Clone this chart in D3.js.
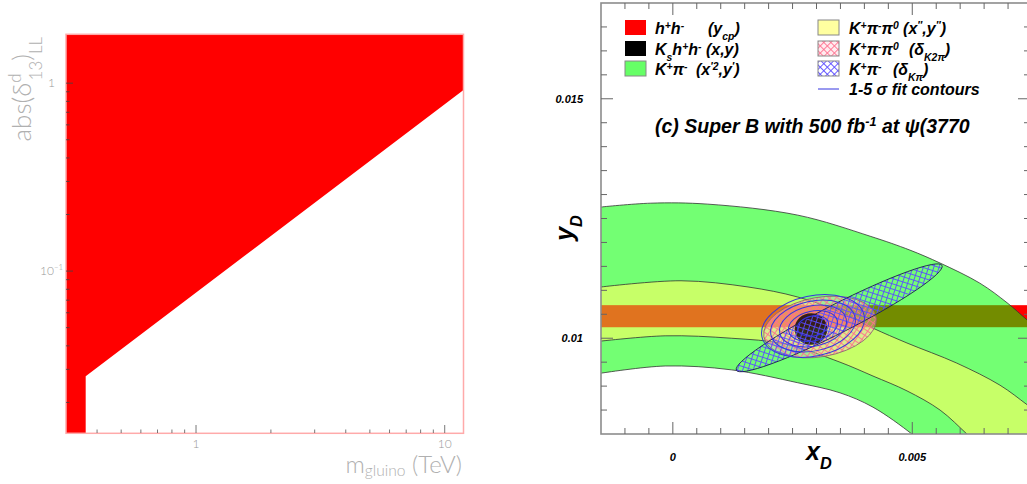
<!DOCTYPE html>
<html>
<head>
<meta charset="utf-8">
<script src="https://cdn.jsdelivr.net/npm/d3@7"></script>
<style>
  body { margin: 0; background: #fff; }
  svg { display: block; }
  .root { font-family: "Liberation Sans", Arial, sans-serif; font-weight: bold; font-style: italic; fill: #000; }
  .thin { font-family: Lato, "DejaVu Sans", sans-serif; font-weight: 300; }
</style>
</head>
<body>
<script>
// ---- left panel : gluino mass vs |delta^d_13|_LL
var massDomain = [0.3, 11.9];
var deltaDomain = [0.0137, 1.82];
var boundMass  = [0.36, 0.36, 11.9];
var boundDelta = [0.0137, 0.0276, 0.92];
var massLabels = [1, 10];

// ---- right panel : D mixing, x_D / y_D plane
var xdDomain = [-0.0015, 0.0075];
var ydDomain = [0.008, 0.017];
var xdLabels = [0, 0.005];
var ydLabels = [0.01, 0.015];
var ycpBand = [0.01023, 0.01069];

// K+pi- (x'^2, y') band edges
var kpiTop = [[-0.0015, 0.01274], [-0.00046, 0.01282], [0.00073, 0.0128], [0.00261, 0.01257],
  [0.00412, 0.01213], [0.00495, 0.01184], [0.00558, 0.01157], [0.00641, 0.01115],
  [0.00698, 0.01074], [0.0074, 0.01038], [0.00777, 0.01007]];
var kpiBottom = [[-0.0015, 0.00927], [-0.00016, 0.00942], [0.00122, 0.00934], [0.00261, 0.00907],
  [0.00349, 0.00886], [0.00418, 0.00856], [0.00499, 0.0080], [0.00527, 0.00775]];

// K+pi-pi0 (x'', y'') band edges
var k2piTop = [[-0.0015, 0.01107], [0.00017, 0.0112], [0.00157, 0.01107], [0.00261, 0.01086],
  [0.00349, 0.01055], [0.00418, 0.01021], [0.00489, 0.0099], [0.00593, 0.00948],
  [0.00683, 0.00902], [0.0074, 0.00861], [0.00788, 0.00825]];
var k2piBottom = [[-0.0015, 0.00994], [-0.00016, 0.01005], [0.00122, 0.01], [0.00234, 0.00988],
  [0.00349, 0.0095], [0.00418, 0.00921], [0.00489, 0.0089], [0.00558, 0.0085],
  [0.00614, 0.0080], [0.00641, 0.00775]];

// ellipses: [cx, cy, rx, ry, angle deg]
var ksEllipse   = [0.002885, 0.010192, 0.00034, 0.00033, 0];
var kpiPhase    = [0.003474, 0.010426, 0.00241, 0.0003, 27];
var k2piPhase   = [0.003073, 0.010234, 0.00119, 0.00062, 10];
var fitCenter   = [0.002927, 0.010255];
var fitAngle    = 12;
var contourRx   = [0.00033, 0.00052, 0.00071, 0.0009, 0.00109];
var contourRy   = [0.00021, 0.00031, 0.00042, 0.00052, 0.00063];

var svg = d3.select("body").append("svg")
    .attr("width", 1027)
    .attr("height", 484);
var defs = svg.append("defs");

// parts: [text, "sup"|"sub", dx, shift]
function rich(sel, parts) {
  parts.forEach(function(p) {
    var t = sel.append("tspan").text(p[0]);
    if (p[1] == "sup") t.attr("baseline-shift", p[3] || "super").attr("font-size", "65%");
    if (p[1] == "sub") t.attr("baseline-shift", p[3] || "sub").attr("font-size", "65%");
    if (p[2]) t.attr("dx", p[2]);
  });
  return sel;
}

// ================= left panel =================
var lx = d3.scaleLog().domain(massDomain).range([66, 463.5]);
var ly = d3.scaleLog().domain(deltaDomain).range([433.3, 34.3]);
var left = svg.append("g");

var redPoly = [[massDomain[0], deltaDomain[1]], [massDomain[1], deltaDomain[1]]];
for (var i = boundMass.length - 1; i >= 0; i--) redPoly.push([boundMass[i], boundDelta[i]]);
redPoly.push([massDomain[0], deltaDomain[0]]);

left.append("path")
    .attr("d", d3.line().x(function(d) { return lx(d[0]); }).y(function(d) { return ly(d[1]); })(redPoly) + "Z")
    .style("fill", "#ff0000");

left.append("rect")
    .attr("x", 66).attr("y", 34.3).attr("width", 397.5).attr("height", 399)
    .style("fill", "none").style("stroke", "#ffaaaa").style("stroke-width", 1.5);

var isDecade = function(v) { return Math.abs(Math.log10(v) - Math.round(Math.log10(v))) < 1e-6; };
var lxt = lx.ticks().filter(function(v) { return v > massDomain[0] * 1.01; });
var lyt = ly.ticks();

left.selectAll(".lxtick").data(lxt).enter().append("line")
    .attr("x1", function(d) { return lx(d); }).attr("x2", function(d) { return lx(d); })
    .attr("y1", 433).attr("y2", function(d) { return isDecade(d) ? 425 : 429.5; })
    .style("stroke", "#555").style("stroke-width", 0.8);
left.selectAll(".lytick").data(lyt).enter().append("line")
    .attr("y1", function(d) { return ly(d); }).attr("y2", function(d) { return ly(d); })
    .attr("x1", 66).attr("x2", function(d) { return isDecade(d) ? 73 : 69.5; })
    .style("stroke", "#444").style("stroke-width", 0.8);

left.selectAll(".lxlab").data(massLabels).enter().append("text")
    .attr("class", "thin")
    .attr("x", function(d) { return lx(d); }).attr("y", 448)
    .attr("text-anchor", "middle").style("font-size", "12px").style("fill", "#999")
    .text(function(d) { return d; });

left.append("text").attr("class", "thin")
    .attr("x", 55).attr("y", ly(1) + 4).attr("text-anchor", "end")
    .style("font-size", "12px").style("fill", "#999").text("1");
rich(left.append("text").attr("class", "thin")
    .attr("x", 40).attr("y", ly(0.1) + 4)
    .style("font-size", "12px").style("fill", "#999"), [["10"], ["\u22121", "sup"]]);

rich(left.append("text").attr("class", "thin")
    .attr("x", 462).attr("y", 473).attr("text-anchor", "end")
    .style("font-size", "24px").style("fill", "#b0b0b0"),
    [["m"], ["gluino", "sub", null, "-3px"], [" (TeV)"]]);

rich(left.append("text").attr("class", "thin")
    .attr("transform", "translate(31,37) rotate(-90)").attr("text-anchor", "end")
    .style("font-size", "26px").style("fill", "#b0b0b0"),
    [["abs(\u03b4"], ["d", "sup"], ["13", "sub", -7], [")"], ["LL", "sub"]]);

// ================= right panel =================
var x = d3.scaleLinear().domain(xdDomain).range([601, 1032]);
var y = d3.scaleLinear().domain(ydDomain).range([434, 3]);

defs.append("clipPath").attr("id", "plotClip")
  .append("rect").attr("x", 601).attr("y", 3).attr("width", 431).attr("height", 431);

function hatch(id, color, bg) {
  var p = defs.append("pattern").attr("id", id)
      .attr("patternUnits", "userSpaceOnUse")
      .attr("width", 5).attr("height", 5)
      .attr("patternTransform", "rotate(45)");
  if (bg) p.append("rect").attr("width", 5).attr("height", 5).style("fill", bg);
  p.append("path").attr("d", "M0,2.5H5M2.5,0V5")
      .style("stroke", color).style("stroke-width", 0.9);
}
hatch("pinkHatch", "#ff6f8f", "rgba(255,200,210,0.35)");
hatch("blueHatch", "#5a4cff", null);

var curve = d3.line()
    .x(function(d) { return x(d[0]); })
    .y(function(d) { return y(d[1]); })
    .curve(d3.curveCatmullRom.alpha(0.5));

function bandPath(top, corners, bottom) {
  var p = curve(top);
  corners.forEach(function(c) { p += "L" + x(c[0]) + "," + y(c[1]); });
  p += curve(bottom.slice().reverse()).replace(/^M/, "L");
  return p + "Z";
}

var greenPath = bandPath(kpiTop, [[0.0095, 0.0100], [0.0095, 0.0070]], kpiBottom);
var yellowPath = bandPath(k2piTop, [[0.0095, 0.0082], [0.0095, 0.0070]], k2piBottom);

defs.append("clipPath").attr("id", "yellowClip").append("path").attr("d", yellowPath);

var plot = svg.append("g").attr("clip-path", "url(#plotClip)");

function bandRect(g) {
  return g.append("rect")
      .attr("x", x(xdDomain[0])).attr("width", x(xdDomain[1]) - x(xdDomain[0]))
      .attr("y", y(ycpBand[1])).attr("height", y(ycpBand[0]) - y(ycpBand[1]))
      .style("fill", "#ff0000");
}
bandRect(plot);
plot.append("path").attr("d", greenPath).style("fill", "#00ff00").style("fill-opacity", 0.55);
plot.append("path").attr("d", yellowPath).style("fill", "#ffff60").style("fill-opacity", 0.6);
bandRect(plot.append("g").attr("clip-path", "url(#yellowClip)")).style("fill-opacity", 0.45);

[kpiTop, kpiBottom, k2piTop, k2piBottom].forEach(function(edge) {
  plot.append("path").attr("d", curve(edge))
      .style("fill", "none").style("stroke", "#333").style("stroke-width", 0.8);
});

function ellipse(g, cx, cy, rx, ry, angle) {
  var px = x(cx), py = y(cy);
  return g.append("ellipse")
      .attr("cx", px).attr("cy", py)
      .attr("rx", x(cx + rx) - px).attr("ry", py - y(cy + ry))
      .attr("transform", "rotate(" + (-angle) + "," + px + "," + py + ")");
}

ellipse(plot, k2piPhase[0], k2piPhase[1], k2piPhase[2], k2piPhase[3], k2piPhase[4])
    .style("fill", "url(#pinkHatch)").style("stroke", "#8a6070").style("stroke-width", 0.8);
ellipse(plot, ksEllipse[0], ksEllipse[1], ksEllipse[2], ksEllipse[3], ksEllipse[4])
    .style("fill", "#000").style("fill-opacity", 0.78);
ellipse(plot, kpiPhase[0], kpiPhase[1], kpiPhase[2], kpiPhase[3], kpiPhase[4])
    .style("fill", "url(#blueHatch)").style("stroke", "#1a1a50").style("stroke-width", 0.8);
contourRx.forEach(function(rx, i) {
  ellipse(plot, fitCenter[0], fitCenter[1], rx, contourRy[i], fitAngle)
      .style("fill", "none").style("stroke", "#3535e0").style("stroke-width", 1);
});

// frame and ticks
var right = svg.append("g").attr("class", "root");
right.append("rect")
    .attr("x", 601).attr("y", 3).attr("width", 431).attr("height", 431)
    .style("fill", "none").style("stroke", "#8c8c8c").style("stroke-width", 1.6);

var isMajor = function(v) { return Math.abs(v / 0.005 - Math.round(v / 0.005)) < 1e-6; };
var xt = x.ticks(20).filter(function(v) { return v > xdDomain[0] + 1e-9; });
var yt = y.ticks(20).filter(function(v) { return v > ydDomain[0] + 1e-9 && v < ydDomain[1] - 1e-9; });
var tk = right.append("g").style("stroke", "#666").style("stroke-width", 1);

xt.forEach(function(v) {
  var L = isMajor(v) ? 12 : 6;
  tk.append("line").attr("x1", x(v)).attr("x2", x(v)).attr("y1", 434).attr("y2", 434 - L);
  tk.append("line").attr("x1", x(v)).attr("x2", x(v)).attr("y1", 3).attr("y2", 3 + L);
});
yt.forEach(function(v) {
  var L = isMajor(v) ? 12 : 6;
  tk.append("line").attr("y1", y(v)).attr("y2", y(v)).attr("x1", 601).attr("x2", 601 + L);
  tk.append("line").attr("y1", y(v)).attr("y2", y(v)).attr("x1", 1030).attr("x2", 1030 - L);
});

right.selectAll(".xlab").data(xdLabels).enter().append("text")
    .attr("x", function(d) { return x(d); }).attr("y", 461)
    .attr("text-anchor", "middle").style("font-size", "11px")
    .text(function(d) { return d; });
right.selectAll(".ylab").data(ydLabels).enter().append("text")
    .attr("x", 583).attr("y", function(d) { return y(d) + 4; })
    .attr("text-anchor", "end").style("font-size", "11px")
    .text(function(d) { return d; });

rich(right.append("text").attr("x", 806).attr("y", 460).style("font-size", "25px"),
    [["x"], ["D", "sub"]]);
rich(right.append("text").attr("transform", "translate(573,228) rotate(-90)")
    .attr("text-anchor", "middle").style("font-size", "25px"),
    [["y"], ["D", "sub"]]);

// title
rich(right.append("text").attr("x", 655).attr("y", 133).style("font-size", "19.5px"),
    [["(c)  Super B with 500 fb"], ["-1", "sup"], [" at "], ["\u03c8", null], ["(3770"]]);

// legend
var legend = right.append("g").style("font-size", "16px");
var sw = [
  {x: 625, y: 20, fill: "#ff0000", op: 1, stroke: "none"},
  {x: 625, y: 41, fill: "#000", op: 1, stroke: "none"},
  {x: 625, y: 61, fill: "#00ff00", op: 0.6, stroke: "#888"},
  {x: 818, y: 20, fill: "#ffff60", op: 0.6, stroke: "#888"},
  {x: 818, y: 41, fill: "url(#pinkHatch)", op: 1, stroke: "#888"},
  {x: 818, y: 61, fill: "url(#blueHatch)", op: 1, stroke: "#888"}
];
sw.forEach(function(s) {
  legend.append("rect").attr("x", s.x).attr("y", s.y).attr("width", 21).attr("height", 15)
      .style("fill", s.fill).style("fill-opacity", s.op)
      .style("stroke", s.stroke).style("stroke-width", 1);
});
legend.append("line").attr("x1", 818).attr("x2", 839).attr("y1", 89).attr("y2", 89)
    .style("stroke", "#3535e0").style("stroke-width", 1);

var lt = [
  [655, 34, [["h"], ["+", "sup"], ["h"], ["-", "sup"]]],
  [708, 34, [["(y"], ["cp", "sub"], [")"]]],
  [655, 55, [["K"], ["s", "sub"], ["h"], ["+", "sup"], ["h"], ["-", "sup"], [" (x,y)"]]],
  [655, 75, [["K"], ["+", "sup"], ["\u03c0"], ["-", "sup"]]],
  [696, 75, [["(x"], ["\u20322", "sup"], [",y"], ["\u2032", "sup"], [")"]]],
  [849, 34, [["K"], ["+", "sup"], ["\u03c0"], ["-", "sup"], ["\u03c0"], ["0", "sup"], [" (x"], ["\u2033", "sup"], [",y"], ["\u2033", "sup"], [")"]]],
  [849, 55, [["K"], ["+", "sup"], ["\u03c0"], ["-", "sup"], ["\u03c0"], ["0", "sup"]]],
  [909, 55, [["(\u03b4"], ["K2\u03c0", "sub"], [")"]]],
  [849, 75, [["K"], ["+", "sup"], ["\u03c0"], ["-", "sup"]]],
  [893, 75, [["(\u03b4"], ["K\u03c0", "sub"], [")"]]],
  [849, 95, [["1-5 \u03c3 fit contours"]]]
];
lt.forEach(function(t) {
  rich(legend.append("text").attr("x", t[0]).attr("y", t[1]), t[2]);
});
</script>
</body>
</html>
